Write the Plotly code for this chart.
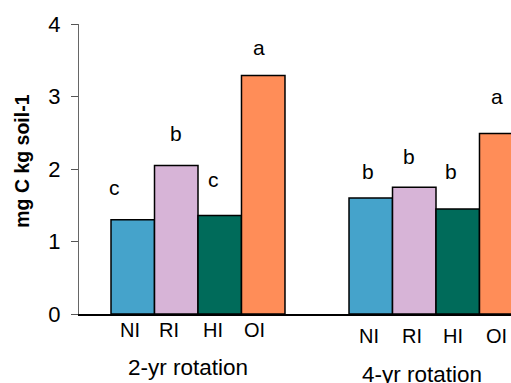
import plotly.graph_objects as go

groups = ["2-yr rotation", "4-yr rotation"]
treatments = ["NI", "RI", "HI", "OI"]
values = {
    "NI": [1.30, 1.60],
    "RI": [2.05, 1.75],
    "HI": [1.36, 1.45],
    "OI": [3.29, 2.49],
}
letters = {
    "NI": ["c", "b"],
    "RI": ["b", "b"],
    "HI": ["c", "b"],
    "OI": ["a", "a"],
}
colors = {"NI": "#45A3CB", "RI": "#D7B4D7", "HI": "#006B5A", "OI": "#FF8D58"}
yticks = [0, 1, 2, 3, 4]

FONT = "Arial, Liberation Sans, sans-serif"
bargap = 0.269
bw = (1 - bargap) / len(treatments)

# pixel nudges for text placement (layout only)
letter_dx = [[-18, 0, -6, -4], [-3, -5, -7, -4]]
letter_dy = [[32, 32, 36, 28], [27, 31, 37, 37]]
label_dx = [[-3, -7, -7, -9], [-2, -2, -5, -5]]

fig = go.Figure()
for t in treatments:
    fig.add_trace(go.Bar(
        x=list(range(len(groups))), y=values[t], name=t,
        marker=dict(color=colors[t], line=dict(color="black", width=1.5)),
        showlegend=False, hoverinfo="skip",
    ))

ann = []
for gi, g in enumerate(groups):
    for k, t in enumerate(treatments):
        xc = gi + (k - 1.5) * bw
        ann.append(dict(x=xc, xshift=letter_dx[gi][k], y=values[t][gi], yshift=letter_dy[gi][k],
                        text=letters[t][gi], showarrow=False,
                        font=dict(family=FONT, size=21, color="black"),
                        xref="x", yref="y", yanchor="middle"))
        ann.append(dict(x=xc, xshift=label_dx[gi][k], y=0, yref="y", xref="x", yshift=-16 - 6 * gi,
                        text=t, showarrow=False, font=dict(family=FONT, size=20, color="black"),
                        yanchor="middle"))
    ann.append(dict(x=gi, xshift=-10 - 4 * gi, y=0, yref="y", xref="x", yshift=-53 - 7 * gi, text=g,
                    showarrow=False, font=dict(family=FONT, size=22.5, color="black"),
                    yanchor="middle"))
ann.append(dict(x=0, xref="paper", xshift=-57, y=2.1, yref="y", text="<b>mg C kg soil-1</b>",
                textangle=-90, showarrow=False, font=dict(family=FONT, size=19.5, color="black"),
                xanchor="center", yanchor="middle"))

fig.update_layout(
    width=511, height=383,
    margin=dict(l=79, r=0, t=24, b=69),
    paper_bgcolor="white", plot_bgcolor="white",
    barmode="group", bargap=bargap, bargroupgap=0,
    annotations=ann,
    xaxis=dict(range=[-0.5, -0.5 + 432 / 238], showticklabels=False, ticks="",
               showline=True, linecolor="black", linewidth=1.5, showgrid=False, zeroline=False),
    yaxis=dict(range=[0, 4], tickvals=yticks, ticks="outside", ticklen=7, tickcolor="#555",
               showline=True, linecolor="#666", linewidth=1, showgrid=False, zeroline=False,
               ticklabelstandoff=6,
               tickfont=dict(family=FONT, size=22, color="black")),
)
fig.write_html("out.html", config={"displayModeBar": False},
               post_script="document.body.style.margin='0';document.body.style.overflow='hidden';")
